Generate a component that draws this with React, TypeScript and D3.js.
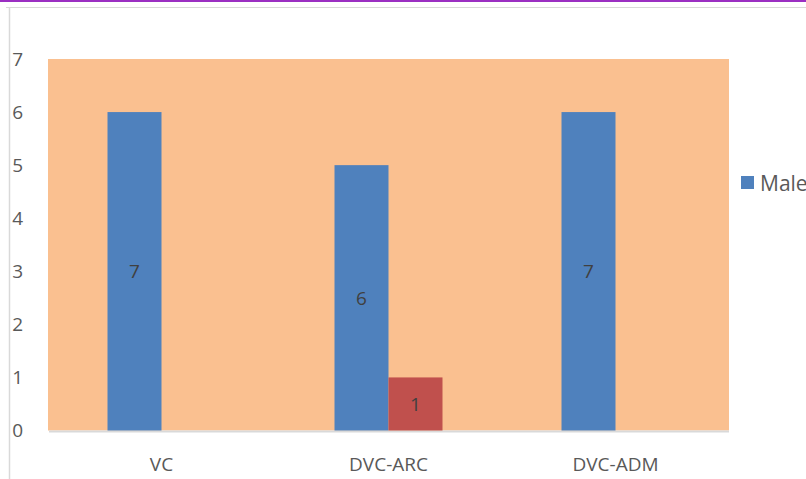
import React from "react";
import * as d3 from "d3";

const categories = ["VC", "DVC-ARC", "DVC-ADM"];
const series = ["Male", "Female"];
const maleValues = [6, 5, 6];
const femaleValues = [0, 1, 0];
const maleLabels = ["7", "6", "7"];
const femaleLabels = ["", "1", ""];
const yTicks = [0, 1, 2, 3, 4, 5, 6, 7];

const W = 806;
const H = 479;
const plot = { left: 48, right: 729, top: 59, bottom: 430.5 };
const colors: Record<string, string> = { Male: "#4F81BD", Female: "#C0504D" };
const font = "'Open Sans', 'Liberation Sans', sans-serif";

export default function App() {
  const x = d3.scaleBand<string>().domain(categories).range([plot.left, plot.right]);
  const y = d3.scaleLinear().domain([0, 7]).range([plot.bottom, plot.top]);
  const barW = 54;
  const sub = d3.scaleBand<string>().domain(series).range([-barW, barW]);
  const data = [
    { s: "Male", values: maleValues, labels: maleLabels },
    { s: "Female", values: femaleValues, labels: femaleLabels },
  ];
  return (
    <svg width={W} height={H} style={{ position: "absolute", left: 0, top: 0 }}>
      <rect x={0} y={0} width={W} height={H} fill="#fff" />
      <line x1={0} x2={W} y1={1} y2={1} stroke="#9B2FC2" strokeWidth={2} />
      <line x1={6} x2={W} y1={7.5} y2={7.5} stroke="#D9D9D9" strokeWidth={1} />
      <line x1={9.5} x2={9.5} y1={7} y2={H} stroke="#D9D9D9" strokeWidth={1.5} />
      <rect x={plot.left} y={plot.top} width={plot.right - plot.left} height={plot.bottom - plot.top} fill="#FAC090" />
      <line x1={plot.left + 1} x2={plot.right} y1={plot.bottom + 1} y2={plot.bottom + 1} stroke="#D9D9D9" strokeWidth={2} />
      {yTicks.map((t) => (
        <text key={t} x={23} y={y(t)} dy="0.36em" textAnchor="end" fontFamily={font} fontSize={19} fill="#595959">
          {t}
        </text>
      ))}
      {categories.map((c) => (
        <text key={c} x={(x(c) as number) + x.bandwidth() / 2} y={471} textAnchor="middle" fontFamily={font} fontSize={19} fill="#595959">
          {c}
        </text>
      ))}
      {data.map((d) =>
        categories.map((c, i) => {
          const v = d.values[i];
          if (!v) return null;
          const cx = (x(c) as number) + x.bandwidth() / 2 + (sub(d.s) as number);
          const y0 = y(v);
          return (
            <g key={d.s + c}>
              <rect x={cx} y={y0} width={sub.bandwidth()} height={y(0) - y0} fill={colors[d.s]} />
              <text x={cx + sub.bandwidth() / 2} y={(y0 + y(0)) / 2} dy="0.36em" textAnchor="middle" fontFamily={font} fontSize={19} fill="#404040">
                {d.labels[i]}
              </text>
            </g>
          );
        })
      )}
      <rect x={741} y={176} width={13} height={13} fill={colors.Male} />
      <text x={760} y={183} dy="0.36em" fontFamily={font} fontSize={21} fill="#595959">
        Male
      </text>
    </svg>
  );
}
